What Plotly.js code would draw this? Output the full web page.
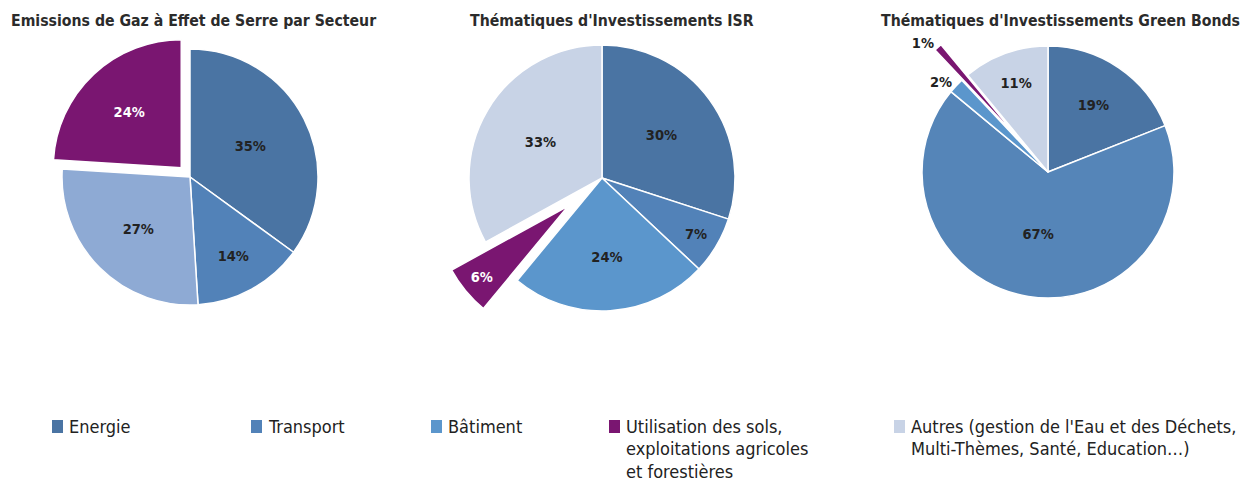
<!DOCTYPE html>
<html>
<head>
<meta charset="utf-8">
<script src="https://cdn.plot.ly/plotly-3.0.1.min.js"></script>
<style>html,body{margin:0;padding:0;background:#fff;}#chart{width:1243px;height:483px;}</style>
</head>
<body>
<div id="chart"></div>
<script>
// ---- Data ----
const titles = [
  "Emissions de Gaz à Effet de Serre par Secteur",
  "Thématiques d'Investissements ISR",
  "Thématiques d'Investissements Green Bonds"
];
const labelsGES = ["Energie", "Transport", "Bâtiment", "Utilisation des sols, exploitations agricoles et forestières"];
const valuesGES = [35, 14, 27, 24];
const labelsISR = ["Energie", "Transport", "Bâtiment", "Utilisation des sols, exploitations agricoles et forestières", "Autres"];
const valuesISR = [30, 7, 24, 6, 33];
const labelsGB = ["Energie", "Transport", "Bâtiment", "Utilisation des sols, exploitations agricoles et forestières", "Autres"];
const valuesGB = [19, 67, 2, 1, 11];
const legendLabels = [
  "Energie",
  "Transport",
  "Bâtiment",
  "Utilisation des sols,<br>exploitations agricoles<br>et forestières",
  "Autres (gestion de l'Eau et des Déchets,<br>Multi-Thèmes, Santé, Education…)"
];

// ---- Styles ----
const FONT = "'DejaVu Sans Condensed', 'Liberation Sans', sans-serif";
const cEnergie = "#4A74A3", cTransport = "#5282B8", cBat = "#5B96CC", cUtil = "#7A1671", cAutres = "#C8D3E6";
const legendColors = [cEnergie, cTransport, cBat, cUtil, cAutres];
const W = 1243, H = 483;
function dom(cx, cy, half) {
  return {x: [(cx - half) / W, (cx + half) / W], y: [(H - cy - half) / H, (H - cy + half) / H]};
}
const common = {
  type: 'pie', sort: false, direction: 'clockwise', rotation: 0,
  texttemplate: '%{value}%', insidetextorientation: 'horizontal',
  hoverinfo: 'label+percent', showlegend: false, automargin: false,
};
const dark = '#222';
const LBL = 14.5;
const lineW = {color: '#fff', width: 1.5};
const traces = [
  Object.assign({}, common, {
    labels: labelsGES, values: valuesGES,
    marker: {colors: [cEnergie, cTransport, '#8EAAD4', cUtil], line: lineW},
    pull: [0, 0, 0, 0.1],
    textposition: 'inside',
    textfont: {family: FONT, size: LBL, color: [dark, dark, dark, '#fff'], weight: 'bold'},
    domain: dom(190, 177, 128 * 1.1)
  }),
  Object.assign({}, common, {
    labels: labelsISR, values: valuesISR,
    marker: {colors: [cEnergie, cTransport, cBat, cUtil, cAutres], line: lineW},
    pull: [0, 0, 0, 0.33, 0],
    textposition: 'inside',
    textfont: {family: FONT, size: LBL, color: [dark, dark, dark, '#fff', dark], weight: 'bold'},
    domain: dom(602, 178, 133 * 1.33)
  }),
  Object.assign({}, common, {
    labels: labelsGB, values: valuesGB,
    marker: {colors: [cEnergie, '#5585B8', cBat, cUtil, cAutres], line: lineW},
    pull: [0, 0, 0, 0.32, 0],
    textposition: ['inside', 'inside', 'none', 'outside', 'inside'],
    textfont: {family: FONT, size: LBL, color: dark, weight: 'bold'},
    outsidetextfont: {family: FONT, size: LBL, color: dark, weight: 'bold'},
    domain: dom(1048, 172, 126 * 1.32)
  }),
  // same pie, unpulled & transparent: carries the small outside label of the 2% slice
  Object.assign({}, common, {
    labels: labelsGB, values: valuesGB,
    marker: {colors: valuesGB.map(() => 'rgba(0,0,0,0)'), line: {width: 0}},
    textposition: ['none', 'none', 'outside', 'none', 'none'],
    outsidetextfont: {family: FONT, size: LBL, color: dark, weight: 'bold'},
    domain: dom(1048, 172, 126)
  })
];

const titleX = [193, 612, 1060];
const annotations = titles.map((t, i) => ({
  text: t, xref: 'paper', yref: 'paper', x: titleX[i] / W, y: 1 - 21 / H,
  xanchor: 'center', yanchor: 'middle', showarrow: false,
  font: {family: FONT, size: 15.7, color: '#2b2b2b', weight: 'bold'}
}));
const legendX = [52, 251, 431, 609, 894];
const shapes = [];
legendLabels.forEach((lab, i) => {
  shapes.push({type: 'rect', xref: 'paper', yref: 'paper',
    x0: legendX[i] / W, x1: (legendX[i] + 11) / W, y0: 1 - 433 / H, y1: 1 - 420 / H,
    fillcolor: legendColors[i], line: {width: 0}});
  lab.split('<br>').forEach((line, j) => {
    annotations.push({text: line, xref: 'paper', yref: 'paper',
      x: (legendX[i] + 15) / W, y: 1 - (426 + 22.5 * j) / H,
      xanchor: 'left', yanchor: 'middle', showarrow: false,
      font: {family: FONT, size: 18, color: '#222'}});
  });
});

Plotly.newPlot('chart', traces, {
  width: W, height: H, margin: {l: 0, r: 0, t: 0, b: 0},
  paper_bgcolor: '#fff', annotations: annotations, shapes: shapes
}, {displayModeBar: false, staticPlot: true});
</script>
</body>
</html>
